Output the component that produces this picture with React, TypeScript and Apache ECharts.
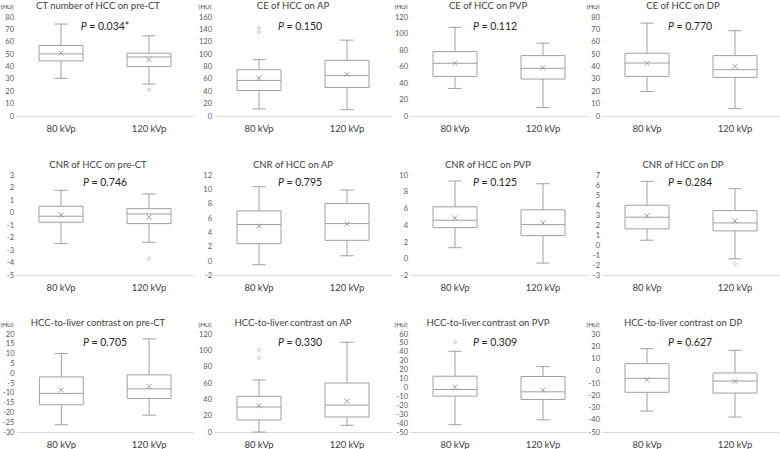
import React, { useEffect, useRef } from "react";
import * as echarts from "echarts";

const categories = ["80 kVp", "120 kVp"];
const panelTitles = [
  "CT number of HCC on pre-CT",
  "CE of HCC on AP",
  "CE of HCC on PVP",
  "CE of HCC on DP",
  "CNR of HCC on pre-CT",
  "CNR of HCC on AP",
  "CNR of HCC on PVP",
  "CNR of HCC on DP",
  "HCC-to-liver contrast on pre-CT",
  "HCC-to-liver contrast on AP",
  "HCC-to-liver contrast on PVP",
  "HCC-to-liver contrast on DP",
];
const pValues = ["0.034*", "0.150", "0.112", "0.770", "0.746", "0.795", "0.125", "0.284", "0.705", "0.330", "0.309", "0.627"];
const showHU = [true, true, true, true, false, false, false, false, true, true, true, true];
const yMin = [0, 0, 0, 0, -5, -2, -2, -3, -30, 0, -50, -50];
const yMax = [80, 160, 120, 80, 3, 12, 10, 7, 20, 120, 60, 30];
const yStep = [10, 20, 20, 10, 1, 2, 2, 1, 5, 20, 10, 10];

// [lower whisker, Q1, median, Q3, upper whisker, mean]
const box80 = [
  [30.4, 44.5, 50.2, 57, 74.3, 50.7],
  [11.4, 41.2, 57.5, 74.8, 91.1, 61.3],
  [33.4, 48, 63.9, 78.1, 107.4, 63.9],
  [19.8, 32, 42.8, 50.7, 75.1, 42.6],
  [-2.46, -0.76, -0.28, 0.51, 1.78, -0.18],
  [-0.5, 2.43, 5.1, 7.0, 10.37, 4.86],
  [1.32, 3.72, 4.6, 6.2, 9.28, 4.88],
  [0.51, 1.64, 2.8, 3.99, 6.37, 2.93],
  [-26.3, -16.1, -10.3, -1.9, 10, -8.6],
  [0, 14.7, 30.6, 43.7, 63.7, 32.2],
  [-41.8, -9.8, -2.3, 12.6, 40.6, 0.3],
  [-32.9, -17.6, -6.2, 5.8, 18, -7.3],
];
const box120 = [
  [25.8, 39.9, 47.7, 50.7, 64.8, 45.6],
  [10.3, 46.1, 65.6, 90, 122.6, 67.3],
  [10.2, 44.8, 57.8, 73.2, 88.3, 58.6],
  [6, 31.2, 37.4, 48.8, 68.9, 40.1],
  [-2.35, -0.87, -0.1, 0.32, 1.49, -0.34],
  [0.75, 2.9, 5.23, 8.03, 9.9, 5.19],
  [-0.52, 2.76, 4.08, 5.84, 8.96, 4.28],
  [-1.34, 1.44, 2.23, 3.46, 5.64, 2.43],
  [-21.4, -12.9, -8, -0.85, 17.5, -6.8],
  [8.2, 18.4, 33, 60, 109.8, 37.6],
  [-36.3, -13.5, -4.9, 12.3, 23.4, -3.1],
  [-37.8, -18.2, -8.4, -1.8, 16.7, -8.6],
];
const outliers80 = [[], [142.6, 135.6], [], [], [], [], [], [], [], [100.8, 91], [50.7], []];
const outliers120 = [[21.4], [], [], [], [-3.65], [], [], [-1.84], [], [], [], []];

const FONT = "Lato, 'Noto Sans', sans-serif";
const STROKE = "#a0a0a0";

const colOrigin = [0, 195, 390, 585];
const gridLefts = [17, 215, 411, 603];
const gridWidth = 176;
const rowTops = [17, 175, 334];
const rowHeights = [99, 100.5, 99];
const titleY = [5, 164, 322];
const pY = [26, 182, 342];
const huY = [6, 0, 324];

function renderBox(params: any, api: any) {
  const c = api.value(0);
  const v = [1, 2, 3, 4, 5, 6].map((i) => api.value(i));
  const p = (val: number) => api.coord([c, val]);
  const bw = api.size([1, 0])[0] * 0.5;
  const cap = bw * 0.3;
  const x = p(v[2])[0];
  const yLow = p(v[0])[1];
  const yQ1 = p(v[1])[1];
  const yMed = p(v[2])[1];
  const yQ3 = p(v[3])[1];
  const yHigh = p(v[4])[1];
  const yMean = p(v[5])[1];
  const ls = { stroke: STROKE, lineWidth: 1 };
  const m = 2.5;
  return {
    type: "group",
    children: [
      { type: "line", shape: { x1: x, y1: yQ3, x2: x, y2: yHigh }, style: ls },
      { type: "line", shape: { x1: x, y1: yQ1, x2: x, y2: yLow }, style: ls },
      { type: "line", shape: { x1: x - cap / 2, y1: yHigh, x2: x + cap / 2, y2: yHigh }, style: ls },
      { type: "line", shape: { x1: x - cap / 2, y1: yLow, x2: x + cap / 2, y2: yLow }, style: ls },
      { type: "rect", shape: { x: x - bw / 2, y: yQ3, width: bw, height: yQ1 - yQ3 }, style: { fill: "#fff", stroke: STROKE, lineWidth: 1 } },
      { type: "line", shape: { x1: x - bw / 2, y1: yMed, x2: x + bw / 2, y2: yMed }, style: ls },
      { type: "line", shape: { x1: x - m, y1: yMean - m, x2: x + m, y2: yMean + m }, style: ls },
      { type: "line", shape: { x1: x - m, y1: yMean + m, x2: x + m, y2: yMean - m }, style: ls },
    ],
  };
}

export default function App() {
  const ref = useRef<HTMLDivElement>(null);
  useEffect(() => {
    if (!ref.current) return;
    const chart = echarts.init(ref.current, undefined, { renderer: "svg" });
    const grid: any[] = [];
    const xAxis: any[] = [];
    const yAxis: any[] = [];
    const series: any[] = [];
    const graphic: any[] = [];
    for (let i = 0; i < 12; i++) {
      const r = Math.floor(i / 4);
      const c = i % 4;
      grid.push({ left: gridLefts[c], top: rowTops[r], width: gridWidth, height: rowHeights[r] });
      xAxis.push({
        type: "category",
        gridIndex: i,
        data: categories,
        axisTick: { show: false },
        axisLine: { onZero: false, lineStyle: { color: "#d9d9d9", width: 1 } },
        axisLabel: { fontSize: 9.5, color: "#404040", margin: 7, fontFamily: FONT },
        splitLine: { show: false },
      });
      yAxis.push({
        type: "value",
        gridIndex: i,
        min: yMin[i],
        max: yMax[i],
        interval: yStep[i],
        axisLine: { show: false },
        axisTick: { show: false },
        splitLine: { show: false },
        axisLabel: { fontSize: 7.5, color: "#595959", margin: 3, fontFamily: FONT },
      });
      series.push({
        type: "custom",
        xAxisIndex: i,
        yAxisIndex: i,
        renderItem: renderBox,
        encode: { x: 0, y: [1, 2, 3, 4, 5, 6] },
        data: [
          [0, ...box80[i]],
          [1, ...box120[i]],
        ],
        silent: true,
      });
      const outs = [
        ...outliers80[i].map((v) => [0, v]),
        ...outliers120[i].map((v) => [1, v]),
      ];
      if (outs.length) {
        series.push({
          type: "scatter",
          xAxisIndex: i,
          yAxisIndex: i,
          symbol: "circle",
          symbolSize: 3,
          itemStyle: { color: "#ffffff", borderColor: STROKE, borderWidth: 0.8 },
          data: outs,
          silent: true,
        });
      }
      graphic.push({
        type: "text",
        x: colOrigin[c] + 98,
        y: titleY[r],
        style: {
          text: panelTitles[i],
          fill: "#404040",
          fontSize: 9.5,
          fontFamily: FONT,
          align: "center",
          verticalAlign: "middle",
        },
      });
      graphic.push({
        type: "text",
        x: colOrigin[c] + 105,
        y: pY[r],
        style: {
          text: "{i|P} = " + pValues[i],
          fill: "#262626",
          fontSize: 10.5,
          fontFamily: FONT,
          align: "center",
          verticalAlign: "middle",
          rich: {
            i: { fontStyle: "italic", fontSize: 10.5, fontFamily: FONT, fill: "#262626" },
          },
        },
      });
      if (showHU[i]) {
        graphic.push({
          type: "text",
          x: gridLefts[c] - 10,
          y: huY[r],
          style: {
            text: "(HU)",
            fill: "#404040",
            fontSize: 6.5,
            fontFamily: FONT,
            align: "center",
            verticalAlign: "middle",
          },
        });
      }
    }
    chart.setOption({
      animation: false,
      backgroundColor: "#fff",
      grid,
      xAxis,
      yAxis,
      series,
      graphic,
    });
    return () => chart.dispose();
  }, []);
  return (
    <div
      ref={ref}
      style={{ position: "fixed", left: 0, top: 0, width: 780, height: 449, background: "#fff" }}
    />
  );
}
